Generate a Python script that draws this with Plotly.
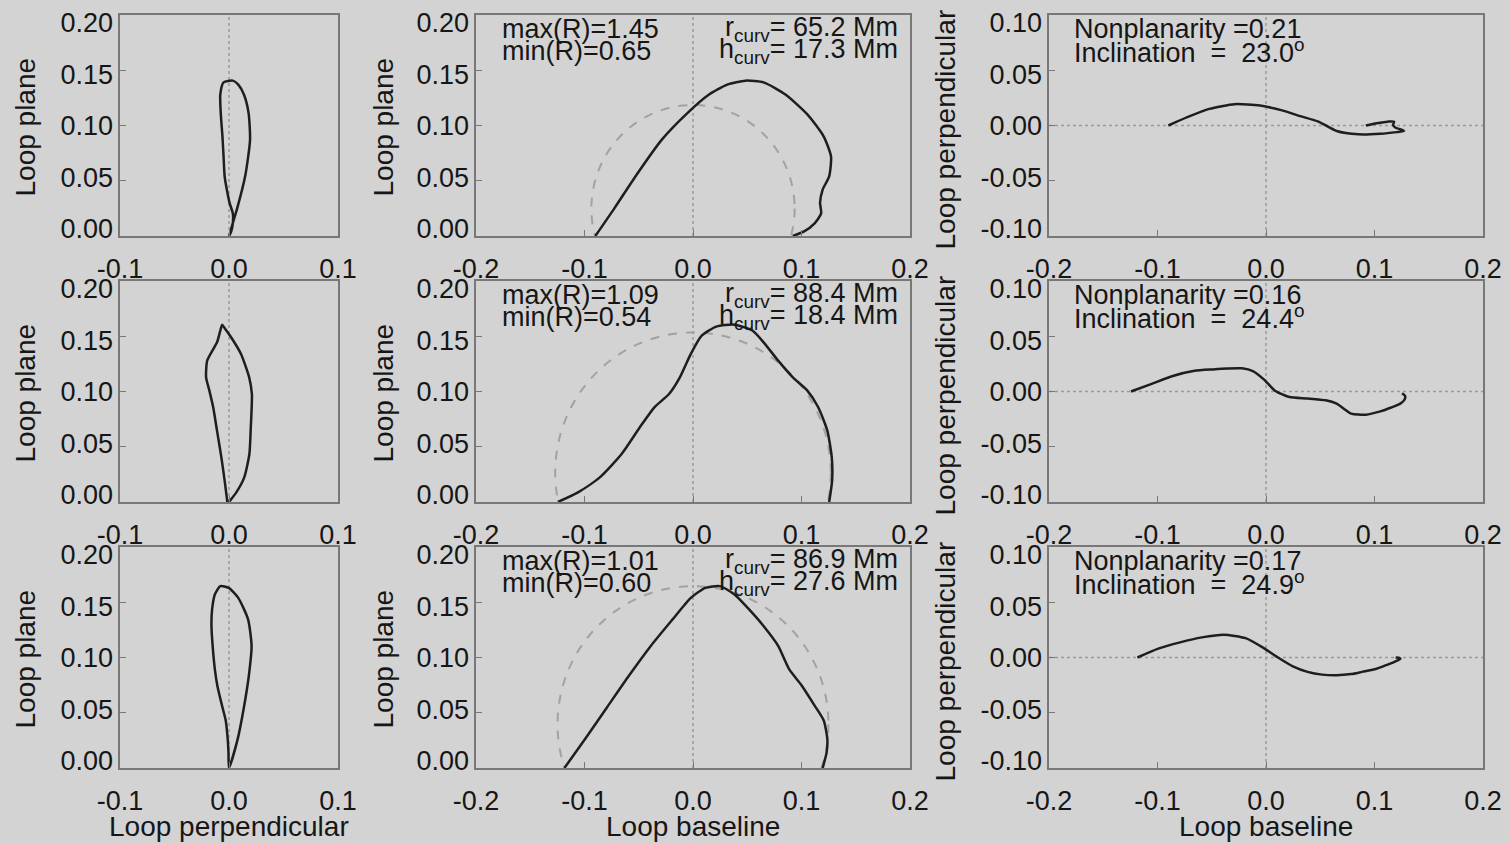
import plotly.graph_objects as go

W, H = 1509, 843

# ---------------- data ----------------
# Row 1 loop: baseline / plane / perpendicular coordinates (solar radii)
row1_base = [-0.090, -0.0725, -0.0523, -0.0289, -0.0054, 0.0148, 0.0315, 0.0483, 0.0651, 0.0852,
             0.1054, 0.1205, 0.1272, 0.1255, 0.1195, 0.1171, 0.1181, 0.1121, 0.1020, 0.0920]
row1_plane = [0.0, 0.025, 0.055, 0.087, 0.111, 0.128, 0.137, 0.1406, 0.139, 0.128,
              0.110, 0.090, 0.072, 0.054, 0.042, 0.030, 0.0205, 0.0115, 0.0039, 0.0]
row1_perp = [0.0, 0.0075, 0.015, 0.0193, 0.018, 0.0137, 0.0085, 0.0035, -0.005, -0.008,
             -0.0075, -0.006, -0.005, -0.004, -0.002, 0.0005, 0.0035, 0.0035, 0.002, 0.0]

# Row 2 loop
row2_base = [-0.1245, -0.106, -0.0859, -0.0658, -0.049, -0.0356, -0.0221, -0.0121, -0.002, 0.008, 0.0215,
             0.0383, 0.055, 0.0651, 0.0785, 0.092, 0.1054, 0.1154, 0.1238, 0.1279, 0.1282, 0.1255]
row2_plane = [0.0, 0.0087, 0.0223, 0.0434, 0.0676, 0.0857, 0.0977, 0.1128, 0.134, 0.1505, 0.1587,
              0.1605, 0.155, 0.1445, 0.1279, 0.1128, 0.1008, 0.0857, 0.0646, 0.0404, 0.0193, 0.0]
row2_perp = [0.0, 0.0067, 0.014, 0.0187, 0.020, 0.0208, 0.021, 0.0185, 0.011, 0.001, -0.005,
             -0.0063, -0.008, -0.011, -0.020, -0.021, -0.018, -0.0145, -0.011, -0.007, -0.004, -0.0015]

# Row 3 loop
row3_base = [-0.1185, -0.0993, -0.0792, -0.0591, -0.0389, -0.0188, -0.002, 0.0114, 0.0248, 0.0383,
             0.0517, 0.065, 0.0785, 0.0886, 0.1003, 0.1121, 0.1205, 0.1238, 0.1232, 0.1195]
row3_plane = [0.0, 0.0264, 0.055, 0.0835, 0.1105, 0.1345, 0.154, 0.163, 0.1646, 0.157,
              0.1435, 0.1285, 0.1105, 0.0895, 0.0745, 0.0565, 0.043, 0.0264, 0.0144, 0.0]
row3_perp = [0.0, 0.008, 0.0137, 0.0182, 0.0207, 0.0175, 0.0085, -0.0002, -0.008, -0.013,
             -0.0155, -0.0161, -0.015, -0.013, -0.0107, -0.0064, -0.003, -0.0012, -0.0005, 0.0]

max_R = ["1.45", "1.09", "1.01"]
min_R = ["0.65", "0.54", "0.60"]
r_curv_Mm = [65.2, 88.4, 86.9]
h_curv_Mm = [17.3, 18.4, 27.6]
nonplanarity = ["0.21", "0.16", "0.17"]
inclination = ["23.0", "24.4", "24.9"]
R_SUN_MM = 696.0

perp_x_ticks = [-0.1, 0.0, 0.1]
perp_x_ticktext = ["-0.1", "0.0", "0.1"]
base_x_ticks = [-0.2, -0.1, 0.0, 0.1, 0.2]
base_x_ticktext = ["-0.2", "-0.1", "0.0", "0.1", "0.2"]
plane_y_ticks = [0.0, 0.05, 0.10, 0.15, 0.20]
plane_y_ticktext = ["0.00", "0.05", "0.10", "0.15", "0.20"]
perp_y_ticks = [-0.10, -0.05, 0.0, 0.05, 0.10]
perp_y_ticktext = ["-0.10", "-0.05", "0.00", "0.05", "0.10"]

rows = [
    (row1_base, row1_plane, row1_perp),
    (row2_base, row2_plane, row2_perp),
    (row3_base, row3_plane, row3_perp),
]

# ---------------- layout geometry (pixels) ----------------
col_px = [(120, 338), (476, 910), (1049, 1483)]
row_px = [(15, 236), (281, 502), (547, 768)]
LABEL_INSET_TOP, LABEL_INSET_BOT = 8, 7   # IDL-style y tick labels sit slightly inside the box

FONT = "Liberation Sans, Arial, Helvetica, sans-serif"
FS = 27
FS_TITLE = 28
TXT = "#161616"
BG = "#d3d3d3"
BOX = "#787878"
DOT = "#9a9a9a"
LINE = "#1e1e1e"


def px_x(p):
    return p / W


def px_y(p):
    return 1 - p / H


fig = go.Figure()
layout = dict(
    width=W, height=H, autosize=False,
    margin=dict(l=0, r=0, t=0, b=0, pad=0),
    paper_bgcolor=BG, plot_bgcolor="rgba(0,0,0,0)",
    showlegend=False,
    font=dict(family=FONT, size=FS, color=TXT),
)
shapes = []
annotations = []

axis_common = dict(
    automargin=False,
    showline=True, mirror=True, linecolor=BOX, linewidth=1.5,
    showgrid=False, zeroline=False,
    ticks="inside", ticklen=6, tickcolor=BOX, tickwidth=1,
    tickfont=dict(family=FONT, size=FS, color=TXT),
    fixedrange=True,
)

idx = 0
for r, (base, plane, perp) in enumerate(rows):
    top, bot = row_px[r]
    ydom = [px_y(bot), px_y(top)]
    for c in range(3):
        idx += 1
        xn = "x" if idx == 1 else f"x{idx}"
        yn = "y" if idx == 1 else f"y{idx}"
        xa = "xaxis" if idx == 1 else f"xaxis{idx}"
        ya = "yaxis" if idx == 1 else f"yaxis{idx}"
        yl_n = f"y{idx + 9}"
        yl_a = f"yaxis{idx + 9}"
        left, right = col_px[c]
        xdom = [px_x(left), px_x(right)]
        if c == 0:
            xs, ys = perp, plane
            xr, yr = [-0.1, 0.1], [0.0, 0.2]
            xt, xtt, yt, ytt = perp_x_ticks, perp_x_ticktext, plane_y_ticks, plane_y_ticktext
        elif c == 1:
            xs, ys = base, plane
            xr, yr = [-0.2, 0.2], [0.0, 0.2]
            xt, xtt, yt, ytt = base_x_ticks, base_x_ticktext, plane_y_ticks, plane_y_ticktext
        else:
            xs, ys = base, perp
            xr, yr = [-0.2, 0.2], [-0.1, 0.1]
            xt, xtt, yt, ytt = base_x_ticks, base_x_ticktext, perp_y_ticks, perp_y_ticktext

        layout[xa] = dict(axis_common, domain=xdom, range=xr, anchor=yn,
                          tickvals=xt, ticktext=xtt, ticklabelstandoff=8)
        # main y axis: box + inward ticks, no labels
        layout[ya] = dict(axis_common, domain=ydom, range=yr, anchor=xn,
                          tickvals=yt, showticklabels=False)
        # label-only y axis (labels slightly compressed toward the middle, as in the IDL original)
        layout[yl_a] = dict(automargin=False, showline=False, showgrid=False, zeroline=False,
                            ticks="", fixedrange=True,
                            domain=[px_y(bot - LABEL_INSET_BOT), px_y(top + LABEL_INSET_TOP)],
                            range=yr, anchor=xn, tickvals=yt, ticktext=ytt,
                            tickfont=dict(family=FONT, size=FS, color=TXT),
                            ticklabelstandoff=6)

        fig.add_trace(go.Scatter(
            x=xs, y=ys, xaxis=xn, yaxis=yn, mode="lines",
            line=dict(color=LINE, width=2.5, shape="spline", smoothing=0.6),
            hoverinfo="skip",
        ))
        fig.add_trace(go.Scatter(x=[None], y=[None], xaxis=xn, yaxis=yl_n, mode="lines",
                                 hoverinfo="skip"))

        # dotted zero lines
        shapes.append(dict(type="line", xref=xn, yref=f"{yn} domain", x0=0, x1=0, y0=0, y1=1,
                           line=dict(color=DOT, width=1.5, dash="dot"), layer="below"))
        if c == 2:
            shapes.append(dict(type="line", xref=f"{xn} domain", yref=yn, x0=0, x1=1, y0=0, y1=0,
                               line=dict(color=DOT, width=1.5, dash="dot"), layer="below"))

        if c == 1:
            rad = r_curv_Mm[r] / R_SUN_MM
            hc = h_curv_Mm[r] / R_SUN_MM
            shapes.append(dict(type="circle", xref=xn, yref=yn,
                               x0=-rad, x1=rad, y0=hc - rad, y1=hc + rad,
                               line=dict(color="#a2a2a2", width=2, dash="dash"), layer="below"))
            annotations.append(dict(xref="paper", yref="paper", x=px_x(500), y=px_y(top + 14),
                                    xanchor="left", yanchor="middle", showarrow=False,
                                    text=f"max(R)={max_R[r]}"))
            annotations.append(dict(xref="paper", yref="paper", x=px_x(500), y=px_y(top + 36),
                                    xanchor="left", yanchor="middle", showarrow=False,
                                    text=f"min(R)={min_R[r]}"))
            annotations.append(dict(xref="paper", yref="paper", x=px_x(900), y=px_y(top + 14),
                                    xanchor="right", yanchor="middle", showarrow=False,
                                    text=f"r<sub>curv</sub>= {r_curv_Mm[r]:.1f} Mm"))
            annotations.append(dict(xref="paper", yref="paper", x=px_x(900), y=px_y(top + 36),
                                    xanchor="right", yanchor="middle", showarrow=False,
                                    text=f"h<sub>curv</sub>= {h_curv_Mm[r]:.1f} Mm"))
        if c == 2:
            annotations.append(dict(xref="paper", yref="paper", x=px_x(1072), y=px_y(top + 14),
                                    xanchor="left", yanchor="middle", showarrow=False,
                                    text=f"Nonplanarity =" + nonplanarity[r]))
            annotations.append(dict(xref="paper", yref="paper", x=px_x(1072), y=px_y(top + 36),
                                    xanchor="left", yanchor="middle", showarrow=False,
                                    text="Inclination\u00a0\u00a0=\u00a0\u00a0" + inclination[r] + "<sup>o</sup>"))

    # y-axis titles
    mid = (top + bot) / 2
    annotations.append(dict(xref="paper", yref="paper", x=px_x(25), y=px_y(mid + 2), textangle=-90,
                            xanchor="center", yanchor="middle", showarrow=False, text="Loop plane",
                            font=dict(size=FS_TITLE)))
    annotations.append(dict(xref="paper", yref="paper", x=px_x(383), y=px_y(mid + 2), textangle=-90,
                            xanchor="center", yanchor="middle", showarrow=False, text="Loop plane",
                            font=dict(size=FS_TITLE)))
    annotations.append(dict(xref="paper", yref="paper", x=px_x(945), y=px_y(mid + 4), textangle=-90,
                            xanchor="center", yanchor="middle", showarrow=False, text="Loop perpendicular",
                            font=dict(size=FS_TITLE)))

# x-axis titles (bottom row only)
annotations.append(dict(xref="paper", yref="paper", x=px_x(229), y=px_y(826), xanchor="center",
                        yanchor="middle", showarrow=False, text="Loop perpendicular",
                        font=dict(size=FS_TITLE)))
annotations.append(dict(xref="paper", yref="paper", x=px_x(693), y=px_y(826), xanchor="center",
                        yanchor="middle", showarrow=False, text="Loop baseline",
                        font=dict(size=FS_TITLE)))
annotations.append(dict(xref="paper", yref="paper", x=px_x(1266), y=px_y(826), xanchor="center",
                        yanchor="middle", showarrow=False, text="Loop baseline",
                        font=dict(size=FS_TITLE)))

layout["shapes"] = shapes
layout["annotations"] = annotations
fig.update_layout(**layout)

fig.write_html(
    "out.html",
    config={"displayModeBar": False},
    post_script="document.body.style.margin='0';document.body.style.overflow='hidden';",
)
